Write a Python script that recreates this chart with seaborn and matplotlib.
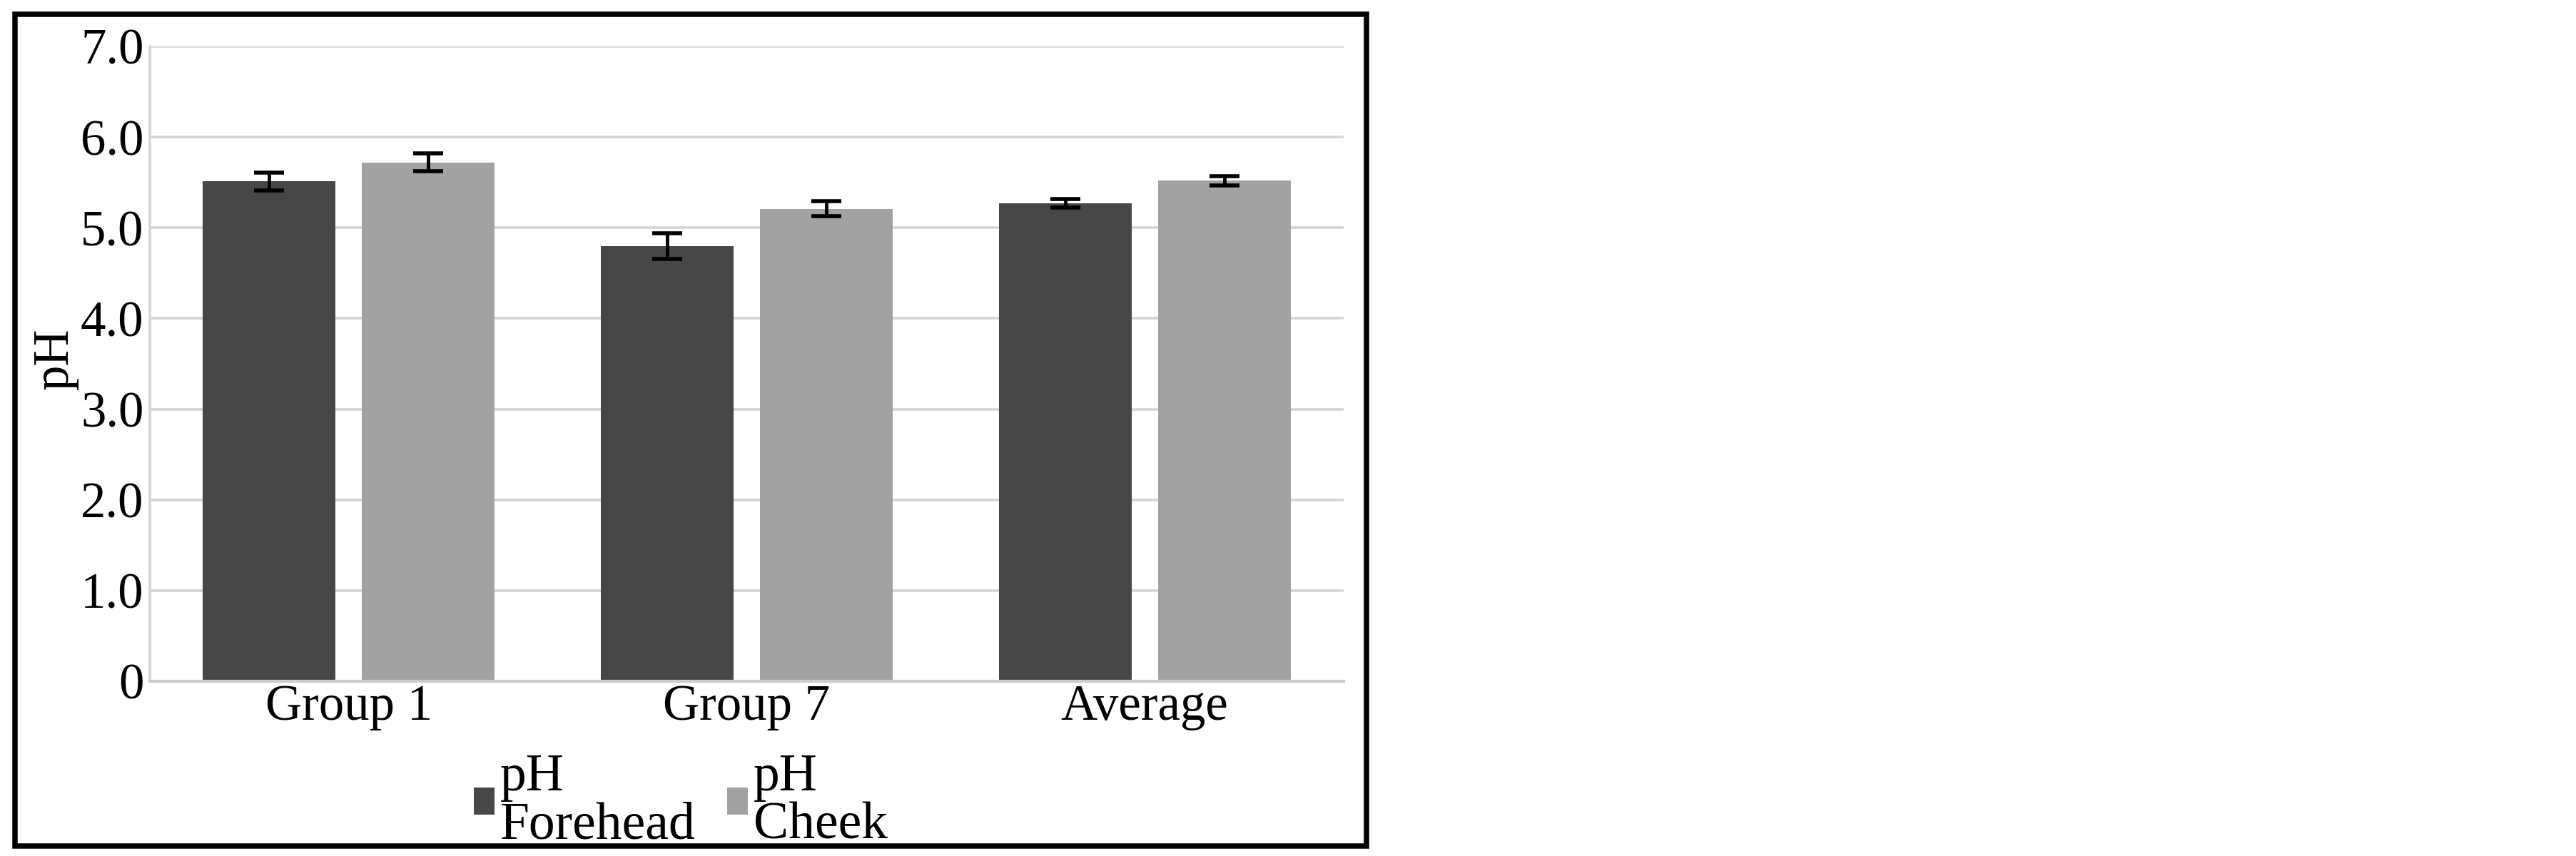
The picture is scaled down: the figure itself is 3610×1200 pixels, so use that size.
import matplotlib
matplotlib.use("Agg")
import matplotlib.pyplot as plt
from matplotlib.patches import Patch, Rectangle
import seaborn as sns
import pandas as pd

# ---- data ----
groups = ["Group 1", "Group 7", "Average"]
sites = ["pH\nForehead", "pH\nCheek"]
forehead = [5.51, 4.80, 5.27]
cheek = [5.72, 5.21, 5.52]
forehead_err = [0.10, 0.14, 0.05]
cheek_err = [0.10, 0.085, 0.05]
yticks = [0, 1, 2, 3, 4, 5, 6, 7]
ytick_labels = ["0", "1.0", "2.0", "3.0", "4.0", "5.0", "6.0", "7.0"]

dark = "#474747"
light = "#a2a2a2"

df = pd.DataFrame({
    "group": groups * 2,
    "site": [sites[0]] * 3 + [sites[1]] * 3,
    "pH": forehead + cheek,
})
errs = [forehead_err, cheek_err]

sns.set_theme(style="whitegrid")
plt.rcParams["font.family"] = ["Liberation Serif", "DejaVu Serif"]
plt.rcParams["text.color"] = "black"

FS = 51
LFS = 53
W, H = 3610, 1200
fig = plt.figure(figsize=(W / 100, H / 100), dpi=100)
fig.patch.set_facecolor("white")
ax = fig.add_axes([210 / W, 1 - 955 / H, 1673 / W, 890 / H])

sns.barplot(data=df, x="group", y="pH", hue="site", hue_order=sites,
            order=groups, palette=[dark, light], width=0.8, gap=0.167,
            errorbar=None, linewidth=0, ax=ax, legend=False, zorder=2)

for cont, e in zip(ax.containers, errs):
    xs = [b.get_x() + b.get_width() / 2 for b in cont]
    ys = [b.get_height() for b in cont]
    ax.errorbar(xs, ys, yerr=e, fmt="none", ecolor="black",
                elinewidth=3.5, capsize=15, capthick=4, zorder=3)

ax.set_xlim(-0.5, 2.5)
ax.set_ylim(0, 7)
ax.set_yticks(yticks)
ax.set_yticklabels(ytick_labels)
ax.set_facecolor("white")
ax.set_axisbelow(True)
ax.yaxis.grid(True, color="#d4d4d4", linewidth=2.6)
ax.xaxis.grid(False)
for s in ["top", "right"]:
    ax.spines[s].set_visible(False)
ax.spines["left"].set_color("#d4d4d4")
ax.spines["left"].set_linewidth(2.6)
ax.spines["bottom"].set_color("#cccccc")
ax.spines["bottom"].set_linewidth(3)
ax.tick_params(axis="both", length=0, labelsize=FS, colors="black")
ax.tick_params(axis="y", pad=6)
ax.tick_params(axis="x", pad=3)
ax.set_xlabel("")
ax.set_ylabel("pH", fontsize=FS, color="black")
ax.yaxis.set_label_coords(-0.0795, 0.508)
ax.yaxis.label.set_verticalalignment("center")

handles = [Patch(facecolor=dark, edgecolor="none"),
           Patch(facecolor=light, edgecolor="none")]
fig.legend(handles, sites, loc="upper left",
           bbox_to_anchor=(664 / W, 1 - 1056 / H),
           bbox_transform=fig.transFigure, frameon=False, ncol=2,
           fontsize=LFS, handlelength=0.4, handleheight=0.4,
           handletextpad=0.1, columnspacing=0.6, borderpad=0,
           borderaxespad=0, labelspacing=0)
for t in fig.legends[0].get_texts():
    t.set_linespacing(1.0)

fig.add_artist(Rectangle((20.5 / W, 1 - 1186 / H), (1914.5 - 20.5) / W,
                         (1186 - 20) / H, transform=fig.transFigure,
                         fill=False, edgecolor="black", linewidth=5.4))

fig.savefig("out.png", dpi=100, facecolor="white")
